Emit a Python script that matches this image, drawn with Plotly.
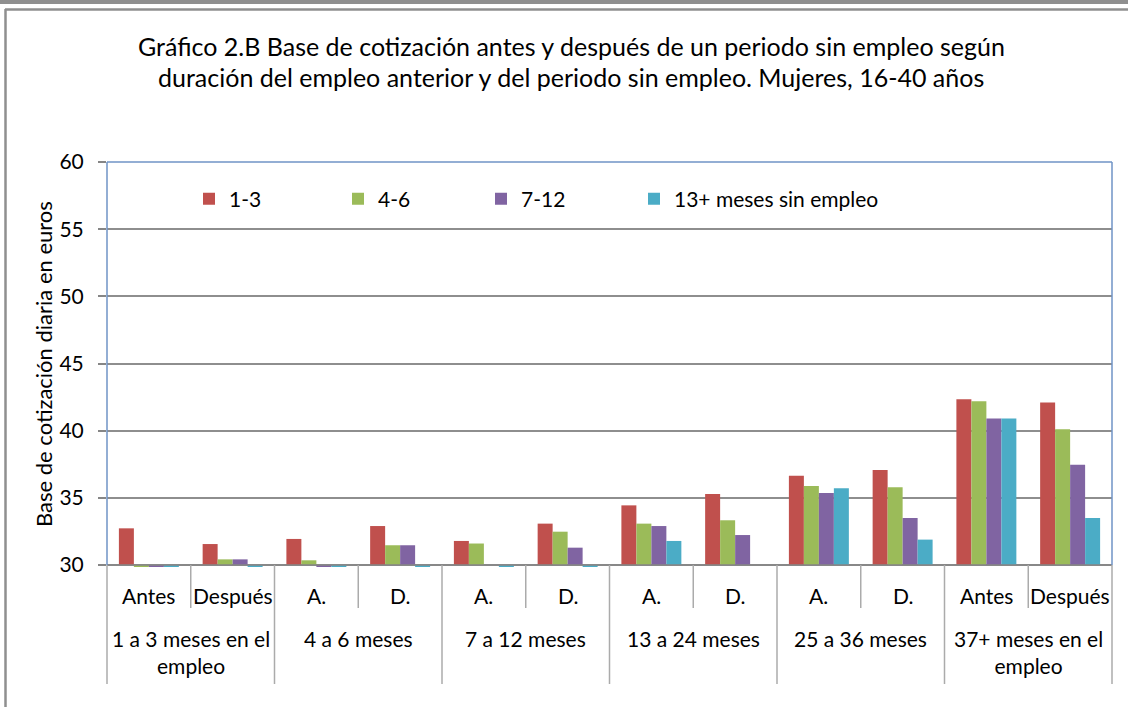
import plotly.graph_objects as go

# ---------------- data ----------------
sub_labels = ["Antes", "Después", "A.", "D.", "A.", "D.", "A.", "D.", "A.", "D.", "Antes", "Después"]
group_labels = ["1 a 3 meses en el<br>empleo", "4 a 6 meses", "7 a 12 meses",
                "13 a 24 meses", "25 a 36 meses", "37+ meses en el<br>empleo"]
series_names = ["1-3", "4-6", "7-12", "13+ meses sin empleo"]
s_1_3 = [32.73, 31.56, 31.94, 32.90, 31.79, 33.08, 34.44, 35.29, 36.65, 37.07, 42.34, 42.09]
s_4_6 = [29.85, 30.42, 30.35, 31.47, 31.60, 32.48, 33.08, 33.33, 35.88, 35.78, 42.19, 40.10]
s_7_12 = [29.85, 30.42, 29.85, 31.47, None, 31.29, 32.90, 32.23, 35.36, 33.50, 40.90, 37.47]
s_13 = [29.85, 29.85, 29.85, 29.85, 29.85, 29.85, 31.79, None, 35.71, 31.89, 40.90, 33.50]
colors = ["#C0504D", "#9BBB59", "#8064A2", "#4BACC6"]
y_ticks = [30, 35, 40, 45, 50, 55, 60]
y_title = "Base de cotización diaria en euros"
title_lines = ["Gráfico 2.B Base de cotización antes y después de un periodo sin empleo según",
               "duración del empleo anterior y del periodo sin empleo. Mujeres, 16-40 años"]

BASE = 30
FONT = "Lato"

# ---------------- geometry helpers ----------------
W, H = 1128, 707
PL, PR, PT, PB = 107, 1112, 162, 568
Y30 = 565
ymin = BASE - (PB - Y30) * (60 - BASE) / (Y30 - PT)


def xp(px):
    return (px - PL) / (PR - PL)


def yp(py):
    return (PB - py) / (PB - PT)


n = len(sub_labels)
xs = list(range(n))
legend_ids = ["legend", "legend2", "legend3", "legend4"]
legend_px = [189, 338, 481, 634]

fig = go.Figure()
for name, vals, col, lid in zip(series_names, [s_1_3, s_4_6, s_7_12, s_13], colors, legend_ids):
    fig.add_trace(go.Bar(
        x=xs,
        y=[None if v is None else v - BASE for v in vals],
        base=BASE,
        name=name,
        legend=lid,
        marker=dict(color=col, line=dict(width=0)),
        customdata=vals,
        hovertemplate="%{customdata}<extra>" + name + "</extra>",
    ))

shapes = []
# x axis line at 30
shapes.append(dict(type="line", xref="paper", yref="y", x0=0, x1=1, y0=BASE, y1=BASE,
                   line=dict(color="#868686", width=1.5), layer="above"))
# plot area border (blue) left, top, right
shapes.append(dict(type="line", xref="paper", yref="paper", x0=0, x1=1, y0=1, y1=1,
                   line=dict(color="#6F93C6", width=1.5), layer="above"))
shapes.append(dict(type="line", xref="paper", yref="paper", x0=1, x1=1, y0=yp(Y30), y1=1,
                   line=dict(color="#6F93C6", width=1.5), layer="above"))
shapes.append(dict(type="line", xref="paper", yref="paper", x0=0, x1=0, y0=yp(Y30), y1=1,
                   line=dict(color="#6F93C6", width=1.5), layer="above"))
# category dividers
for k in range(n + 1):
    xpos = k / n
    y_end = yp(684) if k % 2 == 0 else yp(608)
    shapes.append(dict(type="line", xref="paper", yref="paper", x0=xpos, x1=xpos,
                       y0=yp(Y30), y1=y_end, line=dict(color="#ABABAB", width=1.5)))
# outer chart frame
shapes.append(dict(type="rect", xref="paper", yref="paper", x0=xp(-5), x1=xp(W + 5),
                   y0=yp(4), y1=yp(-2), line=dict(width=0), fillcolor="#8F8F8F"))
shapes.append(dict(type="line", xref="paper", yref="paper", x0=xp(5), x1=xp(W + 5),
                   y0=yp(9.5), y1=yp(9.5), line=dict(color="#8F8F8F", width=2.5)))
shapes.append(dict(type="line", xref="paper", yref="paper", x0=xp(5.5), x1=xp(5.5),
                   y0=yp(9), y1=yp(H + 5), line=dict(color="#8F8F8F", width=2.5)))

annotations = []
for i, lab in enumerate(sub_labels):
    annotations.append(dict(x=(i + 0.5) / n, y=yp(595), xref="paper", yref="paper",
                            text=lab, showarrow=False, xanchor="center", yanchor="middle",
                            font=dict(family=FONT, size=21, color="#000000")))
for g, lab in enumerate(group_labels):
    annotations.append(dict(x=(2 * g + 1) / n, y=yp(624), xref="paper", yref="paper",
                            text=lab, showarrow=False, xanchor="center", yanchor="top",
                            font=dict(family=FONT, size=21, color="#000000")))
annotations.append(dict(x=xp(43), y=yp(364), xref="paper", yref="paper", text=y_title,
                        textangle=-90, showarrow=False, xanchor="center", yanchor="middle",
                        font=dict(family=FONT, size=22, color="#000000")))
annotations.append(dict(x=xp(571), y=yp(46), xref="paper", yref="paper", text=title_lines[0],
                        showarrow=False, xanchor="center", yanchor="middle",
                        font=dict(family=FONT, size=25, color="#000000")))
annotations.append(dict(x=xp(571), y=yp(77), xref="paper", yref="paper", text=title_lines[1],
                        showarrow=False, xanchor="center", yanchor="middle",
                        font=dict(family=FONT, size=25, color="#000000")))

legend_style = dict(orientation="h", y=yp(199), xanchor="left", yanchor="middle",
                    bgcolor="rgba(0,0,0,0)", borderwidth=0,
                    font=dict(family=FONT, size=21, color="#000000"))
legend_layout = {}
for lid, lpx in zip(legend_ids, legend_px):
    legend_layout[lid] = dict(legend_style, x=xp(lpx))

fig.update_layout(
    width=W, height=H,
    margin=dict(l=PL, r=W - PR, t=PT, b=H - PB, pad=0),
    paper_bgcolor="white", plot_bgcolor="white",
    barmode="group", bargap=0.284, bargroupgap=0,
    showlegend=True,
    xaxis=dict(range=[-0.5, n - 0.5], showticklabels=False, showgrid=False, zeroline=False,
               showline=False, ticks="", fixedrange=True),
    yaxis=dict(range=[ymin, 60], tickvals=y_ticks, showgrid=True, gridcolor="#8E8E8E",
               gridwidth=1.5, zeroline=False, showline=False, ticks="outside", ticklen=8,
               tickcolor="#868686", tickwidth=1.5, ticklabelstandoff=10,
               tickfont=dict(family=FONT, size=21, color="#000000")),
    shapes=shapes,
    annotations=annotations,
    font=dict(family=FONT),
    **legend_layout,
)

fig.write_html("out.html", config={"displayModeBar": False},
               post_script="document.body.style.margin='0';document.body.style.overflow='hidden';")
